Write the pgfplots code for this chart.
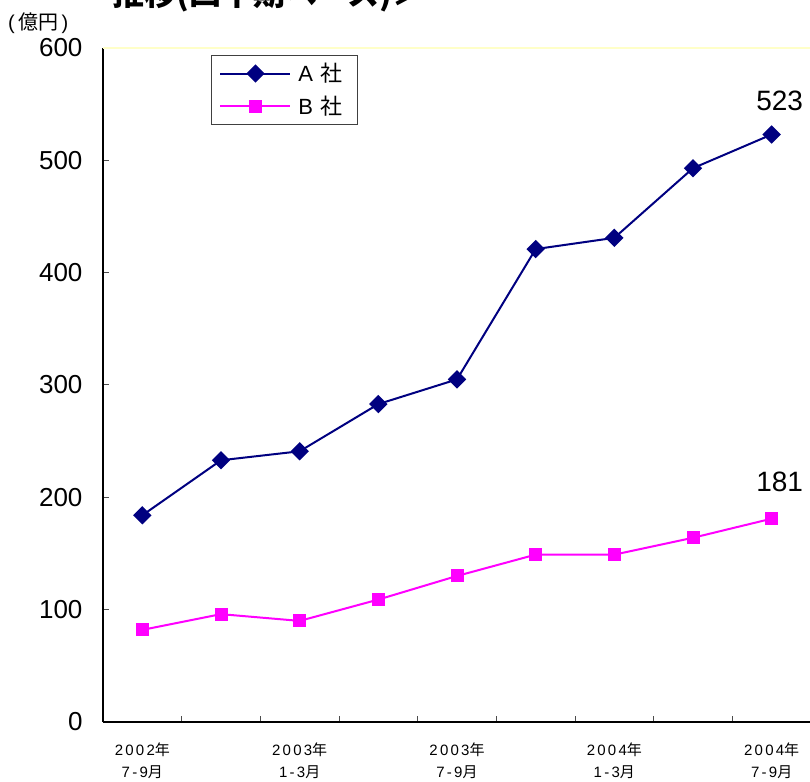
\documentclass[border=0pt]{standalone}
\usepackage{fontspec}
\setmainfont{Liberation Sans}
\newfontfamily\jp{Noto Sans CJK JP}
\newfontfamily\lbl[LetterSpace=15]{Liberation Sans}
\newfontfamily\jplbl[LetterSpace=15]{Noto Sans CJK JP}
\usepackage{pgfplots}
\usepackage{pgfplotstable}
\pgfplotsset{compat=1.18}

\definecolor{seriesA}{RGB}{0,0,128}
\definecolor{seriesB}{RGB}{255,0,255}
\definecolor{frameY}{RGB}{255,255,200}

% quarterly figures, 100 million yen
\pgfplotstableread{
x a b
0 184 82
1 233 96
2 241 90
3 283 109
4 305 130
5 421 149
6 431 149
7 493 164
8 523 181
}\sales

\begin{document}
\begin{tikzpicture}
\path[use as bounding box] (0,0) rectangle (810pt,781pt);
\clip (0,0) rectangle (810pt,781pt);

\node[anchor=base west, inner sep=0, font=\jp\bfseries\fontsize{32}{36}\selectfont] at (112pt,775pt) {推移(四半期ベース)＞};
\node[anchor=west, inner sep=0, font=\fontsize{20}{22}\selectfont] at (8pt,758pt) {(\,{\jp 億円}\,)};

\begin{axis}[
  at={(103pt,59pt)}, anchor=south west,
  scale only axis, width=708pt, height=674pt,
  xmin=-0.5, xmax=8.5, ymin=0, ymax=600,
  clip=false,
  axis x line*=bottom, axis y line*=left,
  axis line style={-, black, line width=1.2pt},
  xtick={0.5,1.5,...,7.5}, xticklabels={},
  extra x ticks={0,2,4,6,8},
  extra x tick labels={
    {{\lbl 2002}{\jplbl 年}\\{\lbl 7-9}{\jplbl 月}},
    {{\lbl 2003}{\jplbl 年}\\{\lbl 1-3}{\jplbl 月}},
    {{\lbl 2003}{\jplbl 年}\\{\lbl 7-9}{\jplbl 月}},
    {{\lbl 2004}{\jplbl 年}\\{\lbl 1-3}{\jplbl 月}},
    {{\lbl 2004}{\jplbl 年}\\{\lbl 7-9}{\jplbl 月}}},
  extra x tick style={major tick length=0pt,
    xticklabel style={align=center, font=\fontsize{15}{22}\selectfont, yshift=-17pt}},
  ytick={0,100,...,600},
  tick align=inside, major tick length=6pt,
  tick style={gray!60!black, line width=1pt},
  /pgf/number format/assume math mode=true,
  yticklabel style={font=\fontsize{26}{30}\selectfont, xshift=-17pt},
  legend style={at={(rel axis cs:0.1525,0.9896)}, anchor=north west,
    draw=black!75, line width=1pt, fill=white,
    font=\fontsize{22}{26}\selectfont, row sep=9pt,
    inner xsep=8pt, inner ysep=6pt,
    nodes={inner xsep=7pt}},
  legend cell align=left,
  legend image code/.code={\draw[#1, mark repeat=2, mark phase=2]
    plot coordinates {(0pt,0pt) (35pt,0pt) (70pt,0pt)};},
]
\draw[frameY, line width=2pt] (rel axis cs:0,1) -- (rel axis cs:1,1) -- (rel axis cs:1,0);

\addplot[seriesA, line width=2pt, mark=square*, mark size=5.5pt,
  mark options={rotate=45, solid}] table[x=x, y=a] {\sales};
\addlegendentry{A\,\,{\jp 社}}
\addplot[seriesB, line width=2pt, mark=square*, mark size=5.5pt,
  mark options={solid}] table[x=x, y=b] {\sales};
\addlegendentry{B\,\,{\jp 社}}

\node[anchor=base, font=\fontsize{28}{32}\selectfont, xshift=8pt, yshift=24pt] at (axis cs:8,523) {523};
\node[anchor=base, font=\fontsize{28}{32}\selectfont, xshift=8pt, yshift=27pt] at (axis cs:8,181) {181};
\end{axis}
\end{tikzpicture}
\end{document}
